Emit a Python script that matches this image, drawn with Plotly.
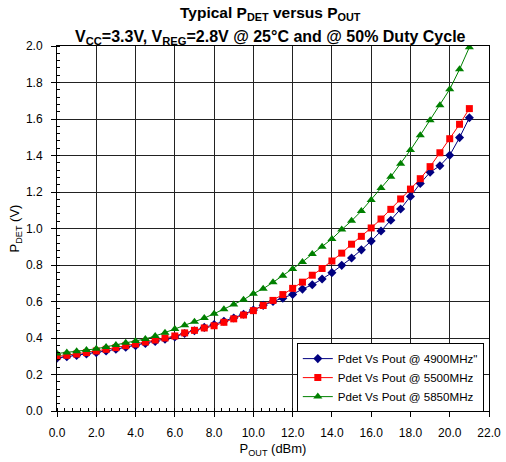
import plotly.graph_objects as go

pout = [i * 0.5 for i in range(43)]

pdet_4900 = [0.290, 0.297, 0.304, 0.312, 0.320, 0.329, 0.338, 0.349, 0.358, 0.370,
             0.381, 0.393, 0.406, 0.425, 0.440, 0.458, 0.474, 0.492, 0.510, 0.530,
             0.553, 0.579, 0.600, 0.618, 0.639, 0.668, 0.692, 0.723, 0.758, 0.798,
             0.838, 0.883, 0.931, 0.986, 1.045, 1.107, 1.176, 1.247, 1.308, 1.344,
             1.401, 1.498, 1.607]
pdet_5500 = [0.298, 0.305, 0.312, 0.320, 0.329, 0.338, 0.347, 0.358, 0.367, 0.378,
             0.389, 0.400, 0.411, 0.428, 0.442, 0.455, 0.467, 0.486, 0.505, 0.526,
             0.550, 0.578, 0.606, 0.638, 0.672, 0.706, 0.744, 0.781, 0.822, 0.865,
             0.914, 0.957, 1.003, 1.052, 1.105, 1.162, 1.216, 1.273, 1.339, 1.415,
             1.492, 1.571, 1.657]
pdet_5850 = [0.315, 0.320, 0.327, 0.334, 0.341, 0.351, 0.362, 0.374, 0.384, 0.395,
             0.411, 0.429, 0.449, 0.470, 0.489, 0.509, 0.533, 0.558, 0.583, 0.610,
             0.643, 0.670, 0.705, 0.741, 0.778, 0.817, 0.860, 0.900, 0.943, 0.994,
             1.042, 1.096, 1.156, 1.222, 1.284, 1.355, 1.430, 1.511, 1.593, 1.675,
             1.763, 1.872, 1.993]

names = ["Pdet Vs Pout @ 4900MHz\"", "Pdet Vs Pout @ 5500MHz", "Pdet Vs Pout @ 5850MHz"]
title_lines = ["<b>Typical P<sub>DET</sub> versus P<sub>OUT</sub></b>",
               "<b>V<sub>CC</sub>=3.3V, V<sub>REG</sub>=2.8V @ 25°C and @ 50% Duty Cycle</b>"]

FONT = "Liberation Sans, Arial, sans-serif"

fig = go.Figure()
fig.add_trace(go.Scatter(x=pout, y=pdet_4900, mode="lines+markers", name=names[0],
                         line=dict(color="#000080", width=1),
                         marker=dict(symbol="diamond", size=7, color="#000080")))
fig.add_trace(go.Scatter(x=pout, y=pdet_5500, mode="lines+markers", name=names[1],
                         line=dict(color="#FF0000", width=1),
                         marker=dict(symbol="square", size=7, color="#FF0000")))
fig.add_trace(go.Scatter(x=pout, y=pdet_5850, mode="lines+markers", name=names[2],
                         line=dict(color="#008000", width=1),
                         marker=dict(symbol="triangle-up", size=8, color="#008000")))

fig.update_layout(
    width=506, height=462,
    margin=dict(l=57, r=17, t=46, b=51),
    paper_bgcolor="white", plot_bgcolor="white",
    font=dict(family=FONT, size=12, color="black"),
    legend=dict(
        x=0.988, xanchor="right", y=0.186, yanchor="top",
        bgcolor="white", bordercolor="black", borderwidth=1,
        font=dict(family=FONT, size=11.6, color="black"),
        tracegroupgap=0, itemwidth=30,
    ),
    showlegend=True,
    annotations=[
        dict(text=title_lines[0], xref="paper", yref="paper", x=0.495, y=1.088,
             xanchor="center", yanchor="middle", showarrow=False,
             font=dict(family=FONT, size=15.5, color="black")),
        dict(text=title_lines[1], xref="paper", yref="paper", x=0.495, y=1.024,
             xanchor="center", yanchor="middle", showarrow=False,
             font=dict(family=FONT, size=16, color="black")),
    ],
)

fig.update_xaxes(
    range=[0, 22], dtick=2, tick0=0, tickformat=".1f",
    showline=True, linecolor="black", linewidth=1, mirror=True,
    showgrid=True, gridcolor="#222222", gridwidth=1,
    ticks="outside", ticklen=5, tickcolor="black",
    ticklabelstandoff=6, automargin=False,
    minor=dict(dtick=0.4, ticks="inside", ticklen=3, tickcolor="black", showgrid=False),
    zeroline=False,
    title=dict(text="P<sub>OUT</sub> (dBm)", font=dict(family=FONT, size=13), standoff=4),
)
fig.update_yaxes(
    range=[0, 2.0], dtick=0.2, tick0=0, tickformat=".1f",
    showline=True, linecolor="black", linewidth=1, mirror=True,
    showgrid=True, gridcolor="#222222", gridwidth=1,
    ticks="outside", ticklen=5, tickcolor="black",
    ticklabelstandoff=6, automargin=False,
    minor=dict(dtick=0.04, ticks="inside", ticklen=3, tickcolor="black", showgrid=False),
    zeroline=False,
    title=dict(text="P<sub>DET</sub> (V)", font=dict(family=FONT, size=13), standoff=3),
)

fig.write_html("out.html")
